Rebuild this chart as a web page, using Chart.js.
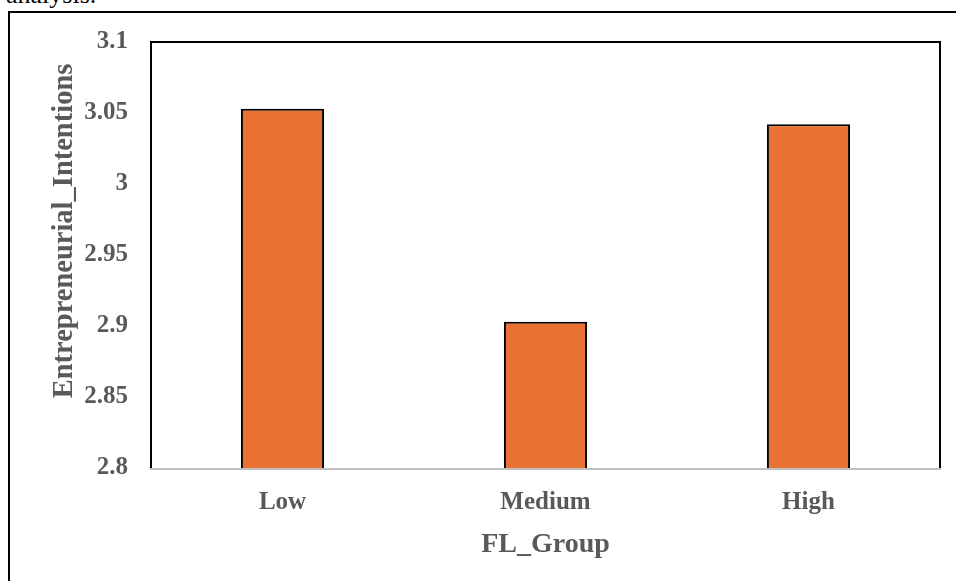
<!DOCTYPE html>
<html>
<head>
<meta charset="utf-8">
<script src="https://cdn.jsdelivr.net/npm/chart.js@4"></script>
<style>
  html, body { margin: 0; padding: 0; background: #fff; overflow: hidden; }
  #caption {
    position: absolute; left: 6px; top: -20px;
    font: 26px "Liberation Serif", "Times New Roman", serif; color: #000;
    white-space: nowrap;
  }
  #frame {
    position: absolute; left: 8px; top: 11px; width: 1000px; height: 640px;
    border: 2px solid #000; box-sizing: border-box;
  }
  #wrap { position: absolute; left: 0; top: 0; width: 956px; height: 581px; }
</style>
</head>
<body>
<div id="caption">analysis.</div>
<div id="frame"></div>
<div id="wrap"><canvas id="c" width="956" height="581"></canvas></div>
<script>
// Mean entrepreneurial intentions by financial literacy group
const categories = ["Low", "Medium", "High"];
const meanIntentions = [3.053, 2.903, 3.042];
const yTicks = [2.8, 2.85, 2.9, 2.95, 3, 3.05, 3.1];
const yTitle = "Entrepreneurial_Intentions";

const textGray = "#595959";
const serif = "'Liberation Serif', 'Times New Roman', serif";
const tickFont = { family: serif, size: 25, weight: "bold" };
const titleFont = { family: serif, size: 28, weight: "bold" };

// Plot frame: black on left, top and right; grey baseline along the x axis.
// The vertical axis title sits a little above the plot's middle.
const plotFrame = {
  id: "plotFrame",
  afterDatasetsDraw(chart) {
    const { ctx, chartArea: a } = chart;
    ctx.save();
    ctx.strokeStyle = "#000";
    ctx.lineWidth = 2;
    ctx.beginPath();
    ctx.moveTo(a.left, a.bottom);
    ctx.lineTo(a.left, a.top);
    ctx.lineTo(a.right, a.top);
    ctx.lineTo(a.right, a.bottom);
    ctx.stroke();
    ctx.strokeStyle = "#bfbfbf";
    ctx.beginPath();
    ctx.moveTo(a.left - 1, a.bottom + 1);
    ctx.lineTo(a.right + 1, a.bottom + 1);
    ctx.stroke();

    ctx.translate(65, (a.top + a.bottom) / 2 - 24);
    ctx.rotate(-Math.PI / 2);
    ctx.fillStyle = textGray;
    ctx.font = "bold 28.5px " + serif;
    ctx.textAlign = "center";
    ctx.textBaseline = "middle";
    ctx.fillText(yTitle, 0, 0);
    ctx.restore();
  }
};

new Chart(document.getElementById("c"), {
  type: "bar",
  data: {
    labels: categories,
    datasets: [{
      data: meanIntentions,
      backgroundColor: "#E97132",
      borderColor: "#000",
      borderWidth: 2,
      borderSkipped: "bottom",
      categoryPercentage: 1,
      barPercentage: 0.316
    }]
  },
  options: {
    responsive: false,
    animation: false,
    devicePixelRatio: 1,
    layout: { padding: { left: 46, top: 42, right: 16, bottom: 0 } },
    plugins: { legend: { display: false }, tooltip: { enabled: false } },
    scales: {
      x: {
        grid: { display: false, drawTicks: false },
        border: { display: false },
        ticks: { color: textGray, font: tickFont, padding: 20 },
        title: { display: true, text: "FL_Group", color: textGray, font: titleFont, padding: { top: 10, bottom: 19 } },
        afterFit(s) { s.height = 113; }
      },
      y: {
        min: 2.8,
        max: 3.1,
        afterBuildTicks(s) { s.ticks = yTicks.map(v => ({ value: v })); },
        grid: { display: false, drawTicks: false },
        border: { display: false },
        ticks: {
          color: textGray, font: tickFont, padding: 23,
          callback: v => String(Number(v.toFixed(2)))
        },
        title: { display: false },
        afterFit(s) { s.width = 105; }
      }
    }
  },
  plugins: [plotFrame]
});
</script>
</body>
</html>
